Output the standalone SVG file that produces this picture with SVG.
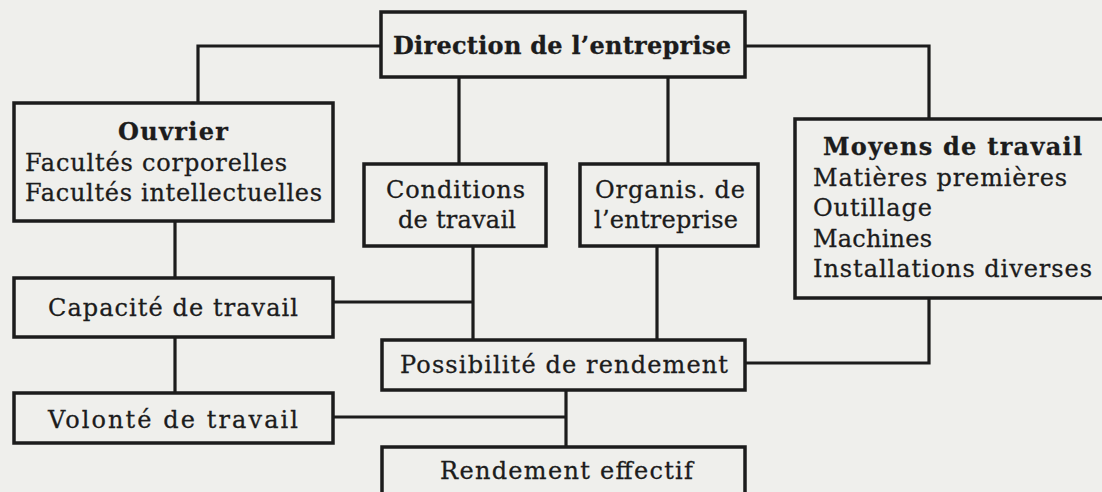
<svg xmlns="http://www.w3.org/2000/svg" width="1102" height="492" viewBox="0 0 1102 492">
<style>
.bg{fill:#efefec}
.box{fill:none;stroke:#1c1c1c;stroke-width:3.5}
.ln{fill:none;stroke:#1c1c1c;stroke-width:3.2}
text{font-family:"DejaVu Serif","Liberation Serif",serif;font-size:24px;fill:#1c1c1c;stroke:#1c1c1c;stroke-width:0.3}
.b{font-weight:bold}
</style>
<rect class="bg" x="0" y="0" width="1102" height="492"/>
<g id="connectors">
<path class="ln" d="M381,46 H198 V103"/>
<path class="ln" d="M745,46 H929 V119"/>
<path class="ln" d="M459,77 V164"/>
<path class="ln" d="M668,77 V164"/>
<path class="ln" d="M175,221 V278"/>
<path class="ln" d="M175,337 V393"/>
<path class="ln" d="M473,246 V340"/>
<path class="ln" d="M333,302 H473"/>
<path class="ln" d="M657,246 V340"/>
<path class="ln" d="M929,298 V363 H745"/>
<path class="ln" d="M566,390 V447"/>
<path class="ln" d="M333,417 H566"/>
</g>
<g id="direction">
<rect class="box" x="381" y="12" width="364" height="65"/>
<text class="b" x="393" y="54" textLength="338" lengthAdjust="spacing">Direction de l’entreprise</text>
</g>
<g id="ouvrier">
<rect class="box" x="14" y="103" width="319" height="118"/>
<text class="b" x="118" y="140" textLength="110" lengthAdjust="spacing">Ouvrier</text>
<text x="25" y="171" textLength="262" lengthAdjust="spacing">Facultés corporelles</text>
<text x="25" y="201" textLength="297" lengthAdjust="spacing">Facultés intellectuelles</text>
</g>
<g id="conditions">
<rect class="box" x="364" y="164" width="182" height="82"/>
<text x="386" y="198" textLength="139" lengthAdjust="spacing">Conditions</text>
<text x="398" y="228" textLength="118" lengthAdjust="spacing">de travail</text>
</g>
<g id="organisation">
<rect class="box" x="580" y="164" width="178" height="82"/>
<text x="595" y="198" textLength="150" lengthAdjust="spacing">Organis. de</text>
<text x="594" y="228" textLength="144" lengthAdjust="spacing">l’entreprise</text>
</g>
<g id="moyens">
<rect class="box" x="795" y="119" width="320" height="179"/>
<text class="b" x="823" y="155" textLength="259" lengthAdjust="spacing">Moyens de travail</text>
<text x="813" y="186" textLength="254" lengthAdjust="spacing">Matières premières</text>
<text x="813" y="216" textLength="119" lengthAdjust="spacing">Outillage</text>
<text x="813" y="247" textLength="119" lengthAdjust="spacing">Machines</text>
<text x="813" y="277" textLength="279" lengthAdjust="spacing">Installations diverses</text>
</g>
<g id="capacite">
<rect class="box" x="14" y="278" width="319" height="59"/>
<text x="48" y="316" textLength="250" lengthAdjust="spacing">Capacité de travail</text>
</g>
<g id="volonte">
<rect class="box" x="14" y="393" width="319" height="50"/>
<text x="48" y="428" textLength="250" lengthAdjust="spacing">Volonté de travail</text>
</g>
<g id="possibilite">
<rect class="box" x="382" y="340" width="363" height="50"/>
<text x="400" y="373" textLength="328" lengthAdjust="spacing">Possibilité de rendement</text>
</g>
<g id="rendement">
<rect class="box" x="382" y="447" width="363" height="70"/>
<text x="440" y="479" textLength="253" lengthAdjust="spacing">Rendement effectif</text>
</g>
</svg>
